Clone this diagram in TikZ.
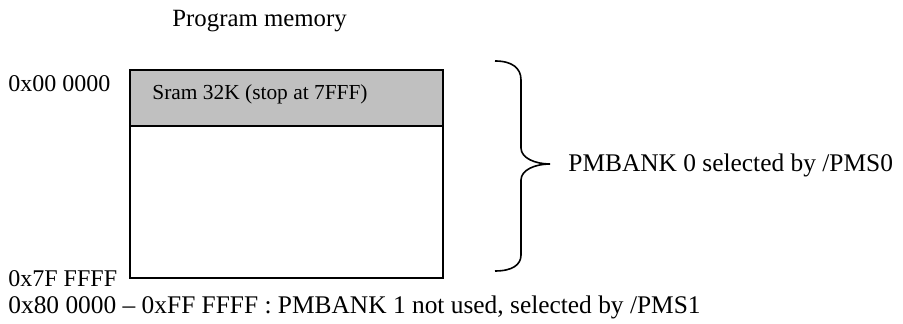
\documentclass[tikz,border=0pt]{standalone}
\usepackage{fontspec}
\setmainfont{Liberation Serif}
\definecolor{sramgray}{RGB}{192,192,192}
\begin{document}
\begin{tikzpicture}[x=0.5pt,y=-0.5pt,
  lbl/.style={inner sep=0pt,anchor=base west,font=\fontsize{12.7}{14}\selectfont},
  addr/.style={inner sep=0pt,anchor=base west,font=\fontsize{12}{14}\selectfont},
  region/.style={draw,line width=0.8pt,inner sep=0pt,anchor=north west,minimum width=156.5pt},
  bracepath/.style={draw,line width=0.8pt}]
\useasboundingbox (0,0) rectangle (903,324);
\node[lbl,font=\fontsize{12.4}{14}\selectfont] (title) at (172,27) {Program memory};
\node[region,fill=sramgray,minimum height=28pt] (sram) at (129,69) {};
\node[region,fill=white,minimum height=76pt] (rest) at (129,125) {};
\node[inner sep=0pt,anchor=base west,font=\fontsize{10.7}{12}\selectfont] (sramtxt) at (152,100) {Sram 32K (stop at 7FFF)};
\node[addr] (a0) at (8,92) {0x00 0000};
\node[addr] (a1) at (8,287) {0x7F FFFF};
\node[lbl] (bank1) at (8,314) {0x80 0000 – 0xFF FFFF : PMBANK 1 not used, selected by /PMS1};
\coordinate (btop) at (495,61);
\coordinate (btip) at (550,164);
\coordinate (bbot) at (495,271);
\draw[bracepath] (btop) .. controls (512,61) and (521,68) .. (521,80) -- (521,148)
  .. controls (521,158) and (535,164) .. (btip)
  .. controls (535,164) and (521,170) .. (521,180) -- (521,255)
  .. controls (521,265) and (512,271) .. (bbot);
\node[lbl] (bank0) at (568,172) {PMBANK 0 selected by /PMS0};
\end{tikzpicture}
\end{document}
